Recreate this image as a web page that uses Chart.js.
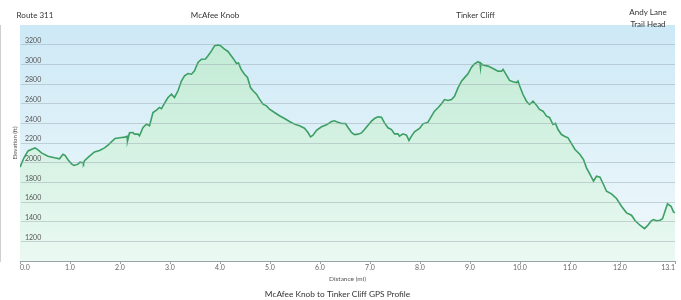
<!DOCTYPE html>
<html>
<head>
<meta charset="utf-8">
<script src="https://cdn.jsdelivr.net/npm/chart.js@4/dist/chart.umd.min.js"></script>
<style>
  html, body { margin: 0; padding: 0; background: #ffffff; }
  #wrap { width: 681px; height: 300px; position: relative; }
</style>
</head>
<body>
<div id="wrap"><canvas id="c" width="681" height="300"></canvas></div>
<script>
// Distance along trail (miles)
const distance = [
  0.00, 0.08, 0.16, 0.26, 0.30, 0.36, 0.43, 0.56, 0.69, 0.79, 0.86, 0.90, 0.96, 1.03, 1.08, 1.16, 1.20, 1.26, 1.27, 1.29,
  1.39, 1.49, 1.59, 1.69, 1.76, 1.90, 2.00, 2.10, 2.14, 2.15, 2.19, 2.26, 2.29, 2.36, 2.39, 2.46, 2.53, 2.59, 2.66, 2.73,
  2.79, 2.83, 2.88, 2.96, 3.03, 3.09, 3.16, 3.23, 3.29, 3.36, 3.43, 3.49, 3.56, 3.63, 3.71, 3.76, 3.83, 3.89, 3.96, 4.01,
  4.09, 4.16, 4.19, 4.26, 4.33, 4.37, 4.42, 4.49, 4.55, 4.61, 4.66, 4.73, 4.79, 4.86, 4.93, 4.99, 5.09, 5.19, 5.29, 5.39,
  5.49, 5.59, 5.69, 5.76, 5.81, 5.86, 5.93, 6.03, 6.13, 6.23, 6.29, 6.36, 6.43, 6.51, 6.56, 6.63, 6.69, 6.76, 6.83, 6.89,
  6.96, 7.03, 7.09, 7.16, 7.23, 7.29, 7.36, 7.43, 7.49, 7.56, 7.59, 7.66, 7.73, 7.78, 7.83, 7.89, 7.99, 8.06, 8.16, 8.23,
  8.29, 8.36, 8.43, 8.49, 8.56, 8.63, 8.69, 8.76, 8.83, 8.90, 8.96, 9.03, 9.09, 9.16, 9.20, 9.21, 9.22, 9.26, 9.36, 9.46,
  9.56, 9.63, 9.66, 9.73, 9.79, 9.86, 9.93, 9.96, 9.99, 10.06, 10.13, 10.19, 10.26, 10.33, 10.39, 10.46, 10.53, 10.59, 10.66, 10.71,
  10.76, 10.83, 10.89, 10.96, 11.06, 11.10, 11.20, 11.27, 11.33, 11.40, 11.47, 11.53, 11.60, 11.67, 11.73, 11.83, 11.93, 12.03, 12.13, 12.23,
  12.30, 12.40, 12.49, 12.55, 12.62, 12.67, 12.73, 12.80, 12.85, 12.90, 12.95, 13.02, 13.07, 13.10
];
// Elevation (ft)
const elevation = [
  1955, 2050, 2120, 2141, 2150, 2130, 2100, 2066, 2050, 2039, 2085, 2075, 2030, 1988, 1972, 1985, 2005, 2000, 1990, 2020,
  2066, 2110, 2124, 2151, 2178, 2246, 2253, 2260, 2269, 2220, 2304, 2307, 2290, 2290, 2273, 2358, 2392, 2375, 2510, 2534,
  2561, 2550, 2595, 2663, 2697, 2663, 2731, 2833, 2884, 2907, 2900, 2934, 3019, 3052, 3055, 3087, 3137, 3188, 3198, 3190,
  3154, 3131, 3110, 3063, 3009, 3015, 2951, 2900, 2866, 2764, 2731, 2697, 2646, 2595, 2578, 2544, 2510, 2477, 2449, 2419,
  2392, 2375, 2351, 2307, 2263, 2280, 2330, 2365, 2385, 2419, 2426, 2410, 2398, 2398, 2358, 2307, 2286, 2290, 2303, 2337,
  2381, 2422, 2449, 2466, 2462, 2405, 2355, 2337, 2293, 2293, 2269, 2293, 2280, 2226, 2270, 2314, 2348, 2395, 2412, 2473,
  2524, 2558, 2599, 2642, 2632, 2642, 2676, 2761, 2829, 2870, 2904, 2971, 3005, 3026, 3015, 2965, 3010, 2992, 2982, 2958,
  2931, 2930, 2948, 2890, 2836, 2822, 2815, 2830, 2785, 2693, 2625, 2592, 2625, 2585, 2541, 2524, 2473, 2460, 2388, 2400,
  2337, 2286, 2269, 2253, 2168, 2134, 2083, 2032, 1948, 1880, 1812, 1862, 1852, 1778, 1710, 1683, 1636, 1557, 1490, 1466,
  1412, 1364, 1330, 1360, 1405, 1422, 1410, 1415, 1430, 1506, 1582, 1557, 1500, 1490
];
// X-axis tick values (miles)
const xTicks = [0, 1, 2, 3, 4, 5, 6, 7, 8, 9, 10, 11, 12, 13.1];
// Landmark names and their distance (miles)
const landmarkNames = [['Route 311'], ['McAfee Knob'], ['Tinker Cliff'], ['Andy Lane', 'Trail Head']];
const landmarkMiles = [0.3, 3.9, 9.11, 12.56];

const FONT = 'Lato, "Open Sans", sans-serif';

const points = distance.map((d, i) => ({ x: d, y: elevation[i] }));

const bgPlugin = {
  id: 'plotBg',
  beforeDraw(chart) {
    const { ctx, chartArea: a } = chart;
    const g = ctx.createLinearGradient(0, a.top, 0, a.bottom);
    g.addColorStop(0, '#cde9f6');
    g.addColorStop(1, '#f1f9fb');
    ctx.save();
    ctx.fillStyle = g;
    ctx.fillRect(a.left, a.top, a.right - a.left, a.bottom - a.top);
    ctx.restore();
  }
};

const landmarkPlugin = {
  id: 'landmarks',
  afterDraw(chart) {
    const { ctx } = chart;
    const xs = chart.scales.x;
    ctx.save();
    ctx.font = '8px ' + FONT;
    ctx.fillStyle = '#333333';
    ctx.textAlign = 'center';
    ctx.textBaseline = 'middle';
    landmarkNames.forEach((lines, i) => {
      const px = xs.getPixelForValue(landmarkMiles[i]);
      const startY = lines.length > 1 ? 12 : 15;
      lines.forEach((t, j) => ctx.fillText(t, px, startY + j * 12.5));
    });
    ctx.restore();
  }
};

new Chart(document.getElementById('c'), {
  type: 'line',
  data: {
    datasets: [{
      data: points,
      borderColor: '#3c9f63',
      borderWidth: 1.6,
      pointRadius: 0,
      tension: 0,
      fill: 'start',
      backgroundColor(ctx) {
        const a = ctx.chart.chartArea;
        if (!a) return 'rgba(200,238,218,0.8)';
        const g = ctx.chart.ctx.createLinearGradient(0, a.top, 0, a.bottom);
        g.addColorStop(0, '#bfead3');
        g.addColorStop(1, '#eaf9f2');
        return g;
      }
    }]
  },
  options: {
    responsive: false,
    devicePixelRatio: 1,
    animation: false,
    layout: { padding: { top: 25, right: 6, bottom: 0, left: 0 } },
    plugins: {
      legend: { display: false },
      tooltip: { enabled: false },
      title: {
        display: true,
        position: 'bottom',
        text: 'McAfee Knob to Tinker Cliff GPS Profile',
        color: '#333333',
        font: { family: FONT, size: 8.3, weight: 'normal' },
        padding: { top: 0, bottom: 1 }
      }
    },
    scales: {
      x: {
        type: 'linear',
        min: 0,
        max: 13.1,
        afterBuildTicks(scale) { scale.ticks = xTicks.map(v => ({ value: v })); },
        afterFit(scale) { scale.height = 28; },
        ticks: {
          align: 'inner',
          autoSkip: false,
          maxRotation: 0,
          padding: 0,
          color: '#666666',
          font: { family: FONT, size: 7 },
          callback: v => Number(v).toFixed(1)
        },
        grid: { display: true, drawOnChartArea: false, drawTicks: true, tickLength: 3, color: '#9aa2a6' },
        border: { display: true, color: '#9aa2a6', width: 1 },
        title: {
          display: true,
          text: 'Distance (mi)',
          color: '#555555',
          font: { family: FONT, size: 6.5 },
          padding: { top: 0, bottom: 6 }
        }
      },
      y: {
        min: 1000,
        max: 3400,
        afterFit(scale) { scale.width = 20; },
        ticks: {
          z: 1,
          stepSize: 200,
          mirror: true,
          padding: 5,
          labelOffset: -4,
          color: '#555555',
          font: { family: FONT, size: 7 },
          callback: v => (v <= 1000 || v >= 3400) ? '' : String(v)
        },
        grid: {
          z: 1,
          drawTicks: false,
          color: ctx => (ctx.tick && (ctx.tick.value <= 1000 || ctx.tick.value >= 3400)) ? 'rgba(0,0,0,0)' : 'rgba(150,165,172,0.45)',
          lineWidth: 1
        },
        border: { display: true, color: '#9aa2a6', width: 1 },
        title: {
          display: true,
          text: 'Elevation (ft)',
          color: '#555555',
          font: { family: FONT, size: 6 },
          padding: { top: 11, bottom: 0 }
        }
      }
    }
  },
  plugins: [bgPlugin, landmarkPlugin]
});
</script>
</body>
</html>
